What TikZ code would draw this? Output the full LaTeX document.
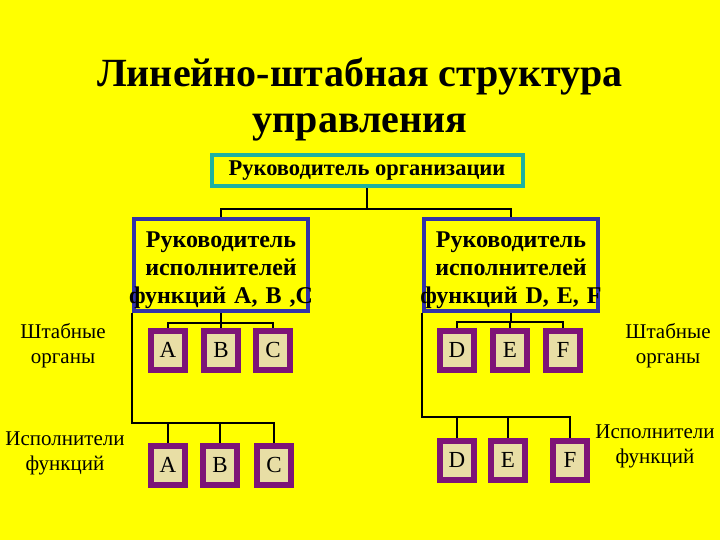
\documentclass[tikz,border=0pt]{standalone}
\usepackage{fontspec}
\setmainfont{Liberation Serif}
\usepackage{tikz}
\usetikzlibrary{calc, positioning}

\definecolor{bgyellow}{RGB}{255,255,0}
\definecolor{tealline}{RGB}{30,178,160}
\definecolor{blueline}{RGB}{50,50,170}
\definecolor{purpline}{RGB}{125,20,120}
\definecolor{cellfill}{RGB}{232,222,165}

\begin{document}
\begin{tikzpicture}[x=1pt, y=-1pt,
            topbox/.style={draw=tealline, line width=4pt, fill=bgyellow, minimum width=311pt, minimum height=31pt, inner sep=0pt, font=\fontsize{22.5}{24}\selectfont\bfseries},
            chief/.style={draw=blueline, line width=4pt, fill=bgyellow, text width=174pt, minimum height=92pt, inner sep=0pt, align=center, font=\fontsize{24}{28}\selectfont\bfseries},
            cell/.style={draw=purpline, line width=6pt, fill=cellfill, minimum width=34pt, minimum height=39pt, inner sep=0pt, font=\fontsize{23}{24}\selectfont},
            label/.style={align=center, font=\fontsize{21}{25}\selectfont},
            link/.style={-, line width=2pt}
        ]

        % background and frame
        \fill[bgyellow] (0,0) rectangle (720,540);
        \useasboundingbox (0,0) rectangle (720,540);

        % Title
        \node[align=center, font=\fontsize{40}{46}\selectfont\bfseries] (title) at (360,100) {Линейно-штабная структура\\управления};

        % Nodes (manual layout to match figure)
        \node[topbox] (org) at (367,171) {Руководитель организации};
        \node[chief] (ruk1) at (221,265) {\rule{0pt}{27pt}Руководитель\\исполнителей\\\makebox[\linewidth]{функций A, B ,C}};
        \node[chief] (ruk2) at (511,265) {\rule{0pt}{27pt}Руководитель\\исполнителей\\\makebox[\linewidth]{функций D, E, F}};

        \node[cell] (sA) at (168,350) {A};
        \node[cell] (sB) at (221,350) {B};
        \node[cell] (sC) at (273,350) {C};
        \node[cell] (sD) at (457,350) {D};
        \node[cell] (sE) at (510,350) {E};
        \node[cell] (sF) at (563,350) {F};

        \node[cell] (eA) at (168,465) {A};
        \node[cell] (eB) at (220,465) {B};
        \node[cell] (eC) at (274,465) {C};
        \node[cell] (eD) at (457,460) {D};
        \node[cell] (eE) at (508,460) {E};
        \node[cell] (eF) at (570,460) {F};

        \node[label] (staffL) at (63,346) {Штабные\\органы};
        \node[label] (staffR) at (668,346) {Штабные\\органы};
        \node[label] (execL) at (65,453) {Исполнители\\функций};
        \node[label] (execR) at (655,446) {Исполнители\\функций};

        % junction points
        \coordinate (j0) at (org.south |- 0,209);
        \coordinate (s1) at (ruk1.south |- 0,323);
        \coordinate (s2) at (ruk2.south |- 0,322);
        \coordinate (e1) at (ruk1.south west |- 0,423);
        \coordinate (e2) at (ruk2.south west |- 0,417);

        % Edges
        \draw[link] (org.south) -- (j0);
        \draw[link] (ruk1.north) |- (j0) -| (ruk2.north);

        \draw[link] (ruk1.south) -- (s1);
        \draw[link] (sA.north) |- (s1) -| (sC.north);
        \draw[link] (sB.north) -- (sB.north |- s1);

        \draw[link] (ruk2.south) -- (s2);
        \draw[link] (sD.north) |- (s2) -| (sF.north);
        \draw[link] (sE.north) -- (sE.north |- s2);

        \draw[link] (ruk1.south west) -- (e1) -| (eC.north);
        \draw[link] (eA.north) -- (eA.north |- e1);
        \draw[link] (eB.north) -- (eB.north |- e1);

        \draw[link] (ruk2.south west) -- (e2) -| (eF.north);
        \draw[link] (eD.north) -- (eD.north |- e2);
        \draw[link] (eE.north) -- (eE.north |- e2);

    \end{tikzpicture}
\end{document}
